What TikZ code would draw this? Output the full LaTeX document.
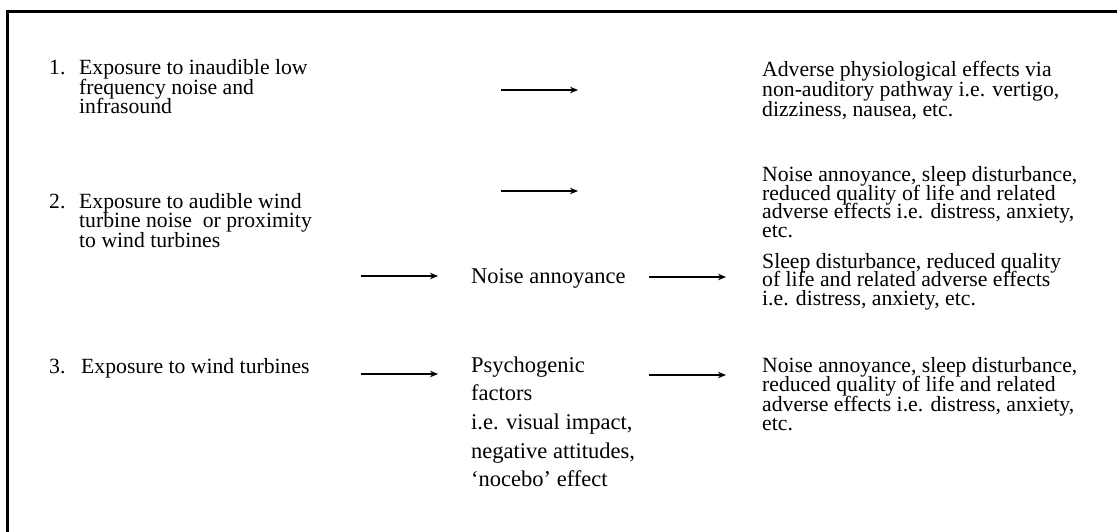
\documentclass[tikz,border=0pt]{standalone}
\usepackage{fontspec}
\setmainfont{Liberation Serif}
\usetikzlibrary{arrows.meta}
\newcommand\linestack[2]{\vtop{\baselineskip=#1\lineskiplimit=-50pt\lineskip=0pt\halign{##\hfil\cr #2\crcr}}}
\tikzset{
  txt/.style={anchor=base west, inner sep=0pt, font=\fontsize{21.7}{19.3}\selectfont},
  midtxt/.style={anchor=base west, inner sep=0pt, font=\fontsize{22.5}{28.7}\selectfont},
  arr/.style={line width=1.8pt, -{Stealth[length=8pt,width=6.5pt]}},
  frame/.style={line width=3pt}
}
\begin{document}
\begin{tikzpicture}[x=1pt,y=-1pt]
\useasboundingbox (0,0) rectangle (1117,532);
% frame (top and left edges only)
\draw[frame] (7.5,532) -- (7.5,11.7) -- (1117,11.7);
% left column
\node[txt] (n1) at (49,75) {1.};
\node[txt] (t1) at (79,75) {\linestack{19.2pt}{Exposure to inaudible low\cr frequency noise and\cr infrasound}};
\node[txt] (n2) at (49,208) {2.};
\node[txt] (t2) at (79,208) {\linestack{19.5pt}{Exposure to audible wind\cr turbine noise\ \ or proximity\cr to wind turbines}};
\node[txt] (n3) at (49,373) {3.};
\node[txt] (t3) at (81,373) {Exposure to wind turbines};
% middle column
\node[midtxt] (na) at (471,283) {Noise annoyance};
\node[midtxt] (ps) at (471,372) {\linestack{28.7pt}{Psychogenic\cr factors\cr i.e. visual impact,\cr negative attitudes,\cr `nocebo' effect}};
% right column
\node[txt] (r1) at (762,77) {\linestack{19.8pt}{Adverse physiological effects via\cr non-auditory pathway i.e. vertigo,\cr dizziness, nausea, etc.}};
\node[txt] (r2) at (762,182) {\linestack{18.5pt}{Noise annoyance, sleep disturbance,\cr reduced quality of life and related\cr adverse effects i.e. distress, anxiety,\cr etc.}};
\node[txt] (r3) at (762,268) {\linestack{18.6pt}{Sleep disturbance, reduced quality\cr of life and related adverse effects\cr i.e. distress, anxiety, etc.}};
\node[txt] (r4) at (762,372) {\linestack{19.6pt}{Noise annoyance, sleep disturbance,\cr reduced quality of life and related\cr adverse effects i.e. distress, anxiety,\cr etc.}};
% arrow end points
\coordinate (a1s) at (501,90);  \coordinate (a1e) at (578,90);
\coordinate (a2s) at (501,191); \coordinate (a2e) at (578,191);
\coordinate (a3s) at (361,276); \coordinate (a3e) at (438,276);
\coordinate (a4s) at (361,374); \coordinate (a4e) at (438,374);
\coordinate (a5s) at (649,277); \coordinate (a5e) at (726,277);
\coordinate (a6s) at (649,375); \coordinate (a6e) at (726,375);
\draw[arr] (a1s) -- (a1e);
\draw[arr] (a2s) -- (a2e);
\draw[arr] (a3s) -- (a3e);
\draw[arr] (a4s) -- (a4e);
\draw[arr] (a5s) -- (a5e);
\draw[arr] (a6s) -- (a6e);
\end{tikzpicture}
\end{document}
